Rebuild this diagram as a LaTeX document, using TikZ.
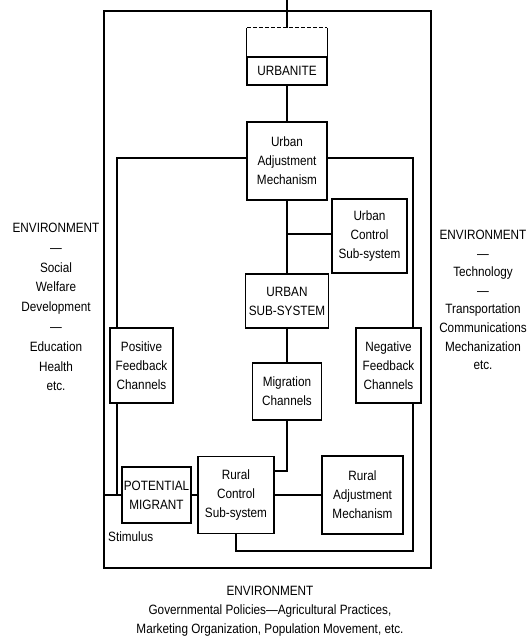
\documentclass[tikz,border=0pt]{standalone}
\usepackage{fontspec}
\setmainfont{Liberation Sans}[FakeStretch=0.87]
\begin{document}
\begin{tikzpicture}[x=1pt,y=-1pt,
  every node/.style={font=\fontsize{13.5}{19}\selectfont, inner sep=0pt, align=center},
  box/.style={draw, line width=1.1pt},
  conn/.style={line width=1.1pt},
  envtext/.style={font=\fontsize{13.5}{19.8}\selectfont}]
\useasboundingbox (0,0) rectangle (528,643);
% outer frame
\node[draw, line width=1.3pt, minimum width=327pt, minimum height=557pt] (outer) at (267.5,289.5) {};
% boxes
\node[box, minimum width=80pt, minimum height=28pt] (urb) at (287,71) {URBANITE};
\node[minimum width=80pt, minimum height=29pt] (urbtop) at (287,42.5) {};
\node[box, minimum width=80pt, minimum height=78pt] (uam) at (287,161) {Urban\\Adjustment\\Mechanism};
\node[box, minimum width=75pt, minimum height=74pt] (ucs) at (369.5,236) {Urban\\Control\\Sub-system};
\node[box, minimum width=83pt, minimum height=54pt] (uss) at (287,301) {URBAN\\SUB-SYSTEM};
\node[box, minimum width=69pt, minimum height=57pt] (mc) at (287,391.5) {Migration\\Channels};
\node[box, minimum width=63pt, minimum height=75pt] (pfc) at (141.5,365.5) {Positive\\Feedback\\Channels};
\node[box, minimum width=65pt, minimum height=75pt] (nfc) at (388.5,365.5) {Negative\\Feedback\\Channels};
\node[box, minimum width=69pt, minimum height=56pt] (pm) at (156.5,495) {POTENTIAL\\MIGRANT};
\node[box, minimum width=76pt, minimum height=77pt] (rcs) at (236,495) {Rural\\Control\\Sub-system};
\node[box, minimum width=81pt, minimum height=78pt] (ram) at (362.5,495) {Rural\\Adjustment\\Mechanism};
% urbanite upper part
\draw[conn] (urbtop.south west) -- (urbtop.north west);
\draw[conn, dashed, dash pattern=on 4pt off 2pt] (urbtop.north west) -- (urbtop.north east);
\draw[conn] (urbtop.north east) -- (urbtop.south east);
% text
\node[anchor=west] (stim) at (108,537) {Stimulus};
\node[envtext] (envl) at (56,307) {ENVIRONMENT\\—\\Social\\Welfare\\Development\\—\\Education\\Health\\etc.};
\node[envtext, font=\fontsize{13.5}{18.6}\selectfont] (envr) at (483,300) {ENVIRONMENT\\—\\Technology\\—\\Transportation\\Communications\\Mechanization\\etc.};
\node (envb) at (270,611) {ENVIRONMENT\\Governmental Policies—Agricultural Practices,\\Marketing Organization, Population Movement, etc.};
% connectors
\coordinate (topend) at (287,0);
\draw[conn] (topend) -- (urbtop.north);
\draw[conn] (urb.south) -- (uam.north);
\coordinate (pl) at (117,158);
\coordinate (pr) at (413,158);
\draw[conn] (uam.west |- pl) -- (pl) -- (pl |- pfc.north);
\draw[conn] (uam.east |- pr) -- (pr) -- (pr |- nfc.north);
\draw[conn] (uam.south) -- (uss.north);
\coordinate (br) at (287,234);
\draw[conn] (br) -- (br -| ucs.west);
\draw[conn] (uss.south) -- (mc.north);
\coordinate (mj) at (287,471);
\draw[conn] (mc.south) -- (mj) -- (mj -| rcs.east);
\draw[conn] (pm.east) -- (pm.east -| rcs.west);
\draw[conn] (rcs.east) -- (rcs.east -| ram.west);
\draw[conn] (pm.west) -- (pm.west -| outer.west);
\draw[conn] (pl |- pfc.south) -- (pl |- pm.west);
\coordinate (bl) at (236,551);
\draw[conn] (rcs.south) -- (bl) -- (bl -| pr) -- (pr |- nfc.south);
\end{tikzpicture}
\end{document}
